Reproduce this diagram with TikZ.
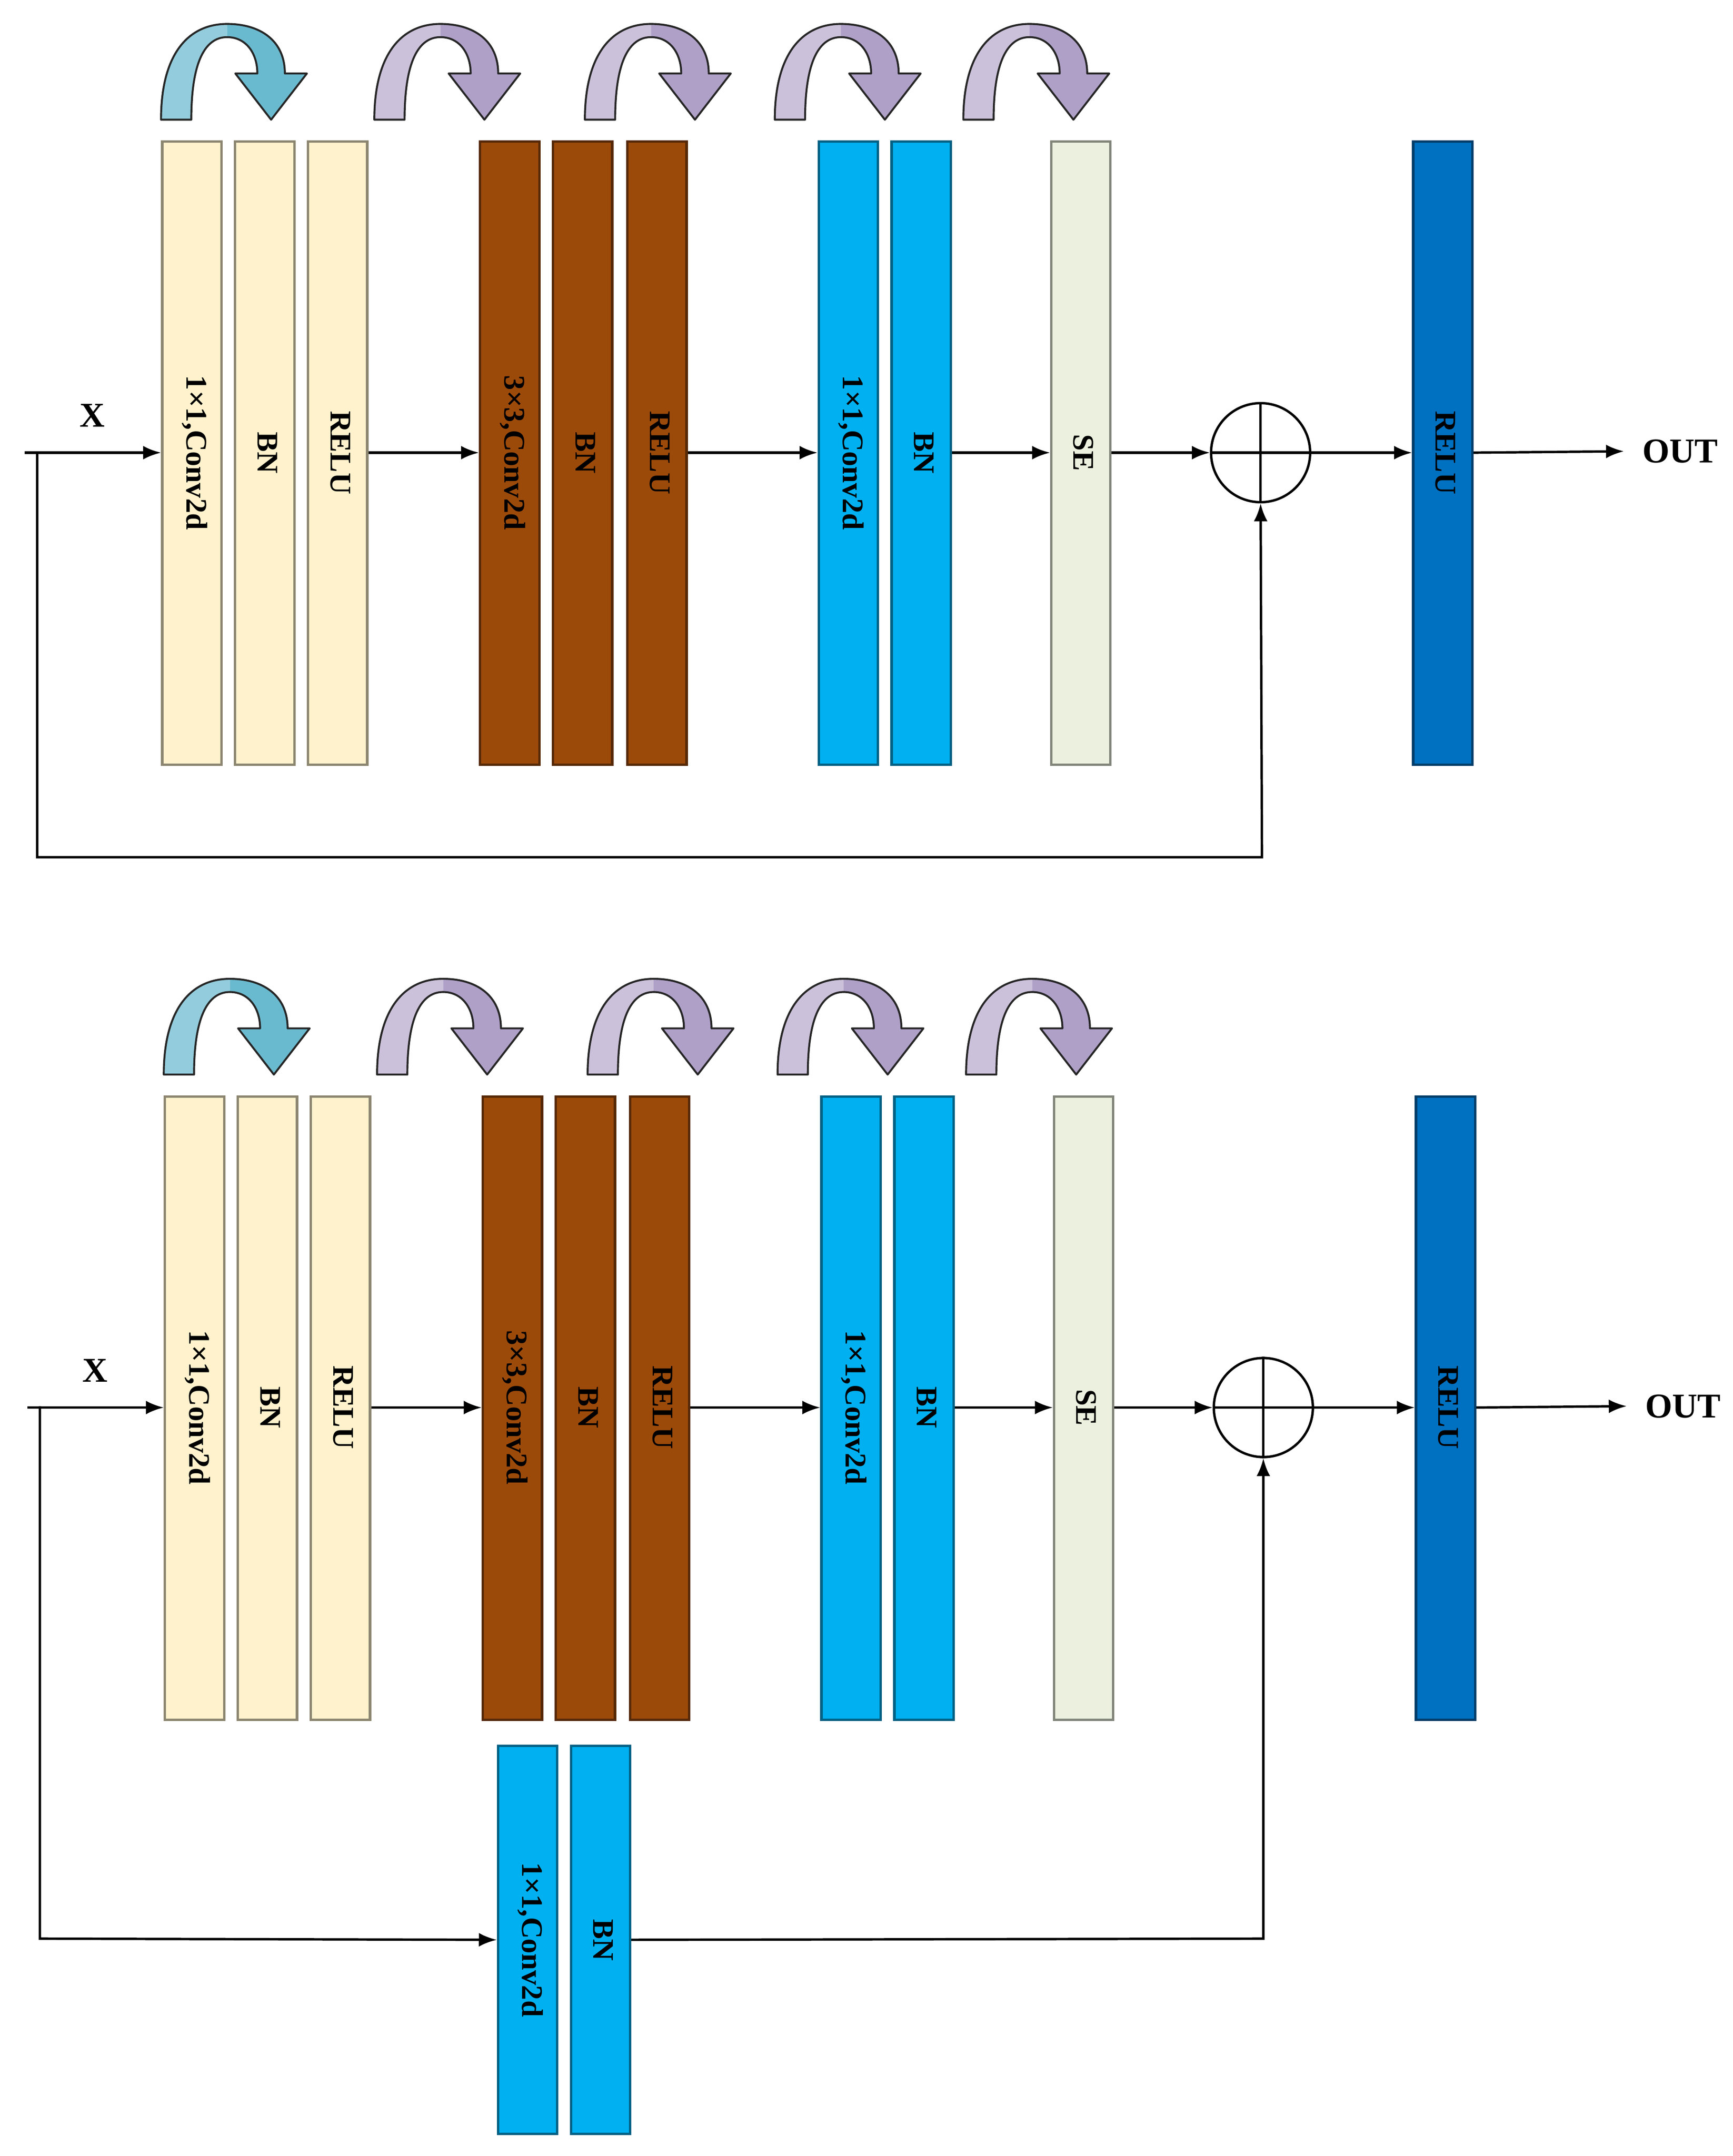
\documentclass[tikz,border=0pt]{standalone}
\usepackage{fontspec}
\setmainfont{Liberation Serif}
\usetikzlibrary{arrows.meta}
\definecolor{beige}{HTML}{FFF2CC}
\definecolor{brn}{HTML}{9C4A0A}
\definecolor{cyn}{HTML}{00B0F0}
\definecolor{sec}{HTML}{EBF1DE}
\definecolor{dbl}{HTML}{0070C0}
\definecolor{bl1}{HTML}{93CDDD}
\definecolor{bl2}{HTML}{6ABACF}
\definecolor{pu1}{HTML}{CCC1DA}
\definecolor{pu2}{HTML}{AFA0C8}
\begin{document}
\begin{tikzpicture}[x=0.1cm,y=-0.1cm,
 bar/.style={draw=#1!55!black,line width=5pt,minimum width=4.3cm,minimum height=45.3cm,anchor=north west,inner sep=0pt,fill=#1},
 lab/.style={rotate=-90,font=\fontsize{62}{64}\selectfont\bfseries},
 ln/.style={line width=5pt},
 ar/.style={ln,-{Latex[length=1.3cm,width=1cm]}},
 pics/curv/.style 2 args={code={
  \begin{scope}[yscale=-1.2,line width=4pt]
  \fill[#1] (0,0)--(22,0) .. controls (22,40) and (35,50) .. (48,50) -- (48,58) .. controls (20,58) and (0,40) .. (0,0)--cycle;
  \fill[#2] (48,50) .. controls (62,50) and (70,40) .. (70,28) -- (54,28) -- (80,0) -- (106,28) -- (90,28) .. controls (90,48) and (72,58) .. (48,58) -- cycle;
  \draw[black!85,line join=round] (0,0)--(22,0) .. controls (22,40) and (35,50) .. (48,50) .. controls (62,50) and (70,40) .. (70,28) -- (54,28) -- (80,0) -- (106,28) -- (90,28) .. controls (90,48) and (72,58) .. (48,58) .. controls (20,58) and (0,40) .. (0,0)--cycle;
  \end{scope}}}]
\path[use as bounding box] (0,0) rectangle (1259,1567);
\foreach \dy/\dx/\p in {0/0/a,694/2/b}{
 \begin{scope}[shift={(\dx,\dy)}]
 \pic at (117,87) {curv={bl1}{bl2}};
 \pic at (272,87) {curv={pu1}{pu2}};
 \pic at (425,87) {curv={pu1}{pu2}};
 \pic at (563,87) {curv={pu1}{pu2}};
 \pic at (700,87) {curv={pu1}{pu2}};
 \node[bar=beige] (\p1) at (117,102) {};
 \node[bar=beige] (\p2) at (170,102) {};
 \node[bar=beige] (\p3) at (223,102) {};
 \node[bar=brn] (\p4) at (348,102) {};
 \node[bar=brn] (\p5) at (401,102) {};
 \node[bar=brn] (\p6) at (455,102) {};
 \node[bar=cyn] (\p7) at (594,102) {};
 \node[bar=cyn] (\p8) at (647,102) {};
 \node[bar=sec] (\p9) at (763,102) {};
 \node[bar=dbl] (\p10) at (1026,102) {};
 \coordinate (\p s) at (18,329);
 \foreach \i/\t in {1/{1×1,Conv2d},2/BN,3/RELU,4/{3×3,Conv2d},5/BN,6/RELU,7/{1×1,Conv2d},8/BN,9/SE,10/RELU}
   \node[lab] (\p t\i) at ([xshift=0.2cm]\p\i.center |- \p s) {\t};
 \node[circle,draw,ln,minimum size=7.2cm,inner sep=0pt] (\p c) at (916,329) {};
 \node[font=\fontsize{72}{74}\selectfont\bfseries] (\p x) at (67,302) {X};
 \node[font=\fontsize{72}{74}\selectfont\bfseries] (\p o) at (1221,328) {OUT};
 \coordinate (\p e) at (1180,328);
 \draw[ar] (\p s) -- (\p1.west |- \p s);
 \draw[ar] (\p3.east |- \p s) -- (\p4.west |- \p s);
 \draw[ar] (\p6.east |- \p s) -- (\p7.west |- \p s);
 \draw[ar] (\p8.east |- \p s) -- (\p9.west |- \p s);
 \draw[ar] (\p9.east |- \p s) -- (\p c.west);
 \draw[ar] (\p c.east) -- (\p10.west |- \p s);
 \draw[ar] (\p10.east |- \p s) -- (\p e);
 \draw[ln] (\p c.north) -- (\p c.south) (\p c.west) -- (\p c.east);
 \end{scope}}
\draw[ar] (27,329) -- (27,623) -- (917,623) -- (ac.south);
\node[bar=cyn,minimum height=28.2cm] (d1) at (361,1268) {};
\node[bar=cyn,minimum height=28.2cm] (d2) at (414,1268) {};
\node[lab] at ([xshift=0.2cm]d1.center) {1×1,Conv2d};
\node[lab] at ([xshift=0.2cm]d2.center) {BN};
\draw[ar] (29,1022) -- (29,1409) -- (d1.west);
\draw[ar] (d2.east) -- (918,1409) -- (bc.south);
\end{tikzpicture}
\end{document}
